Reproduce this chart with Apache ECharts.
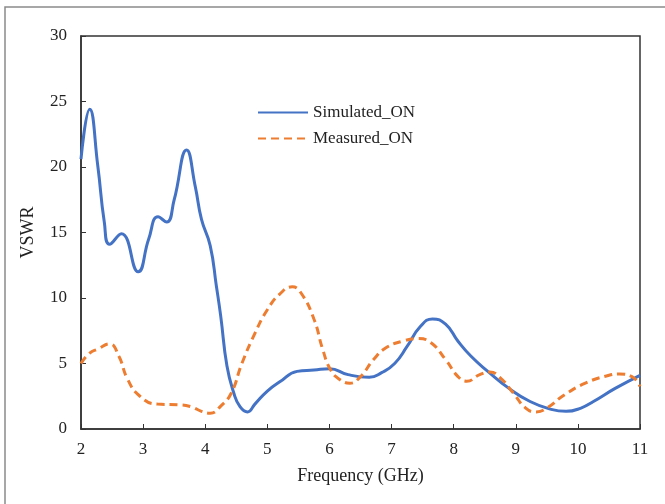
<!DOCTYPE html>
<html><head><meta charset="utf-8">
<script src="https://cdn.jsdelivr.net/npm/echarts@6/dist/echarts.min.js"></script>
<style>html,body{margin:0;padding:0;background:#fff}#c{width:665px;height:504px}</style>
</head><body><div id="c"></div>
<script>
const simFreq = [2.0,2.14,2.27,2.375,2.46,2.65,2.92,3.09,3.24,3.38,3.5,3.7,3.84,3.94,4.08,4.18,4.25,4.35,4.46,4.56,4.68,4.8,5.0,5.2,5.48,5.75,6.0,6.3,6.64,6.84,7.05,7.25,7.46,7.66,7.87,8.07,8.28,8.55,8.89,9.23,9.57,9.81,10.05,10.25,10.6,11.0];
const simVSWR = [20.6,24.4,20.1,15.8,14.1,14.9,12.0,14.5,16.2,15.8,17.5,21.3,18.5,16.0,14.0,10.9,8.6,4.8,2.75,1.7,1.3,1.9,2.9,3.6,4.4,4.5,4.6,4.15,3.95,4.3,5.0,6.3,7.8,8.4,8.0,6.7,5.55,4.4,3.1,2.1,1.5,1.35,1.6,2.1,3.1,4.1];
const measFreq = [2.0,2.14,2.27,2.46,2.61,2.75,2.95,3.23,3.57,3.77,3.94,4.08,4.25,4.42,4.59,4.8,5.0,5.2,5.4,5.54,5.75,5.89,6.02,6.16,6.33,6.5,6.71,6.91,7.18,7.42,7.63,7.87,8.07,8.21,8.42,8.58,8.75,8.96,9.16,9.33,9.5,9.78,10.12,10.46,10.67,10.87,11.0];
const measVSWR = [5.0,5.8,6.1,6.5,5.55,3.8,2.5,1.9,1.85,1.7,1.35,1.2,1.75,2.75,5.0,7.3,9.1,10.3,10.85,10.4,8.4,6.1,4.5,3.8,3.5,4.0,5.3,6.2,6.7,6.9,6.6,5.3,4.0,3.65,4.15,4.35,3.9,2.75,1.6,1.3,1.6,2.6,3.5,4.05,4.2,4.0,3.25];
const xTicks = [2,3,4,5,6,7,8,9,10,11];
const yTicks = [0,5,10,15,20,25,30];
const seriesNames = ['Simulated_ON','Measured_ON'];

const pair = (xs, ys) => xs.map((x, i) => [x, ys[i]]);
const font = 'Liberation Serif';
const chart = echarts.init(document.getElementById('c'), null, {renderer: 'canvas'});
chart.setOption({
  animation: false,
  backgroundColor: '#fff',
  graphic: [{type: 'rect', shape: {x: 5, y: 7, width: 700, height: 520}, style: {fill: 'none', stroke: '#8a8a8a', lineWidth: 1.5}, silent: true}],
  grid: {left: 81, right: 25, top: 36, bottom: 75, show: true, borderColor: '#333', borderWidth: 1.5, backgroundColor: 'transparent'},
  legend: {
    left: 252, top: 99, orient: 'vertical', itemWidth: 50, itemHeight: 14, itemGap: 9,
    data: seriesNames,
    itemStyle: {color: 'transparent', borderWidth: 0, opacity: 0},
    textStyle: {fontFamily: font, fontSize: 17, color: '#222', padding: [0,0,0,0]}
  },
  xAxis: {
    type: 'value', min: xTicks[0], max: xTicks[xTicks.length-1], interval: 1,
    name: 'Frequency (GHz)', nameLocation: 'middle', nameGap: 38,
    nameTextStyle: {fontFamily: font, fontSize: 18, color: '#222'},
    axisLine: {show: true, lineStyle: {color: '#333', width: 1.5}},
    axisTick: {show: true, inside: true, length: 5, lineStyle: {color: '#333'}},
    axisLabel: {fontFamily: font, fontSize: 17, color: '#222', margin: 12},
    splitLine: {show: false}
  },
  yAxis: {
    type: 'value', min: yTicks[0], max: yTicks[yTicks.length-1], interval: 5,
    name: 'VSWR', nameLocation: 'middle', nameGap: 44, nameRotate: 90,
    nameTextStyle: {fontFamily: font, fontSize: 18, color: '#222'},
    axisLine: {show: true, lineStyle: {color: '#333', width: 1.5}},
    axisTick: {show: true, inside: true, length: 5, lineStyle: {color: '#333'}},
    axisLabel: {fontFamily: font, fontSize: 17, color: '#222', margin: 14},
    splitLine: {show: false}
  },
  series: [
    {name: seriesNames[0], type: 'line', data: pair(simFreq, simVSWR), smooth: 0.5, symbol: 'none',
     lineStyle: {color: '#4472C4', width: 3}, itemStyle: {color: '#4472C4'}},
    {name: seriesNames[1], type: 'line', data: pair(measFreq, measVSWR), smooth: 0.5, symbol: 'none',
     lineStyle: {color: '#ED7D31', width: 3, type: [8, 5]}, itemStyle: {color: '#ED7D31'}}
  ]
});
</script></body></html>
